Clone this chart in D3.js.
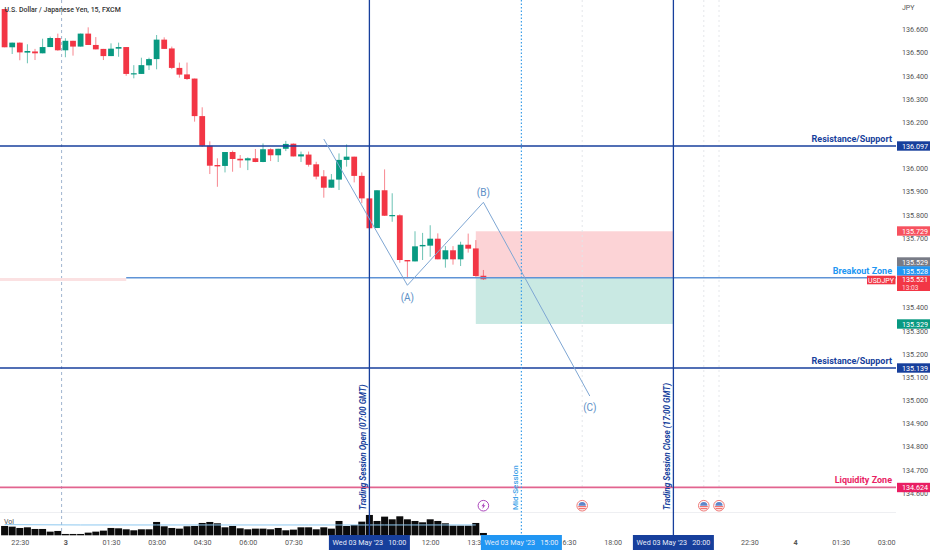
<!DOCTYPE html>
<html>
<head>
<meta charset="utf-8">
<script src="https://d3js.org/d3.v7.min.js"></script>
<style>
  html, body { margin: 0; padding: 0; background: #fff; overflow: hidden; }
  text { font-family: Roboto, "Noto Sans", sans-serif; }
</style>
</head>
<body>
<div id="chart"></div>
<script>
// 15 minute bars, first bar is 22:00 on the 2nd
const opens = [136.688,136.523,136.543,136.500,136.505,136.497,136.524,136.563,136.510,136.551,136.526,136.582,136.533,136.516,136.485,136.517,136.524,136.406,136.408,136.445,136.472,136.556,136.518,136.434,136.406,136.388,136.226,136.098,136.015,136.011,136.071,136.042,136.035,136.044,136.028,136.083,136.057,136.085,136.107,136.052,136.060,136.018,135.966,135.917,135.952,136.037,136.051,135.968,135.871,135.743,135.906,135.796,135.798,135.605,135.599,135.664,135.667,135.697,135.608,135.647,135.608,135.671,135.655,135.537];
const highs = [136.688,136.543,136.544,136.536,136.516,136.560,136.569,136.582,136.562,136.551,136.582,136.609,136.567,136.516,136.540,136.543,136.524,136.446,136.478,136.478,136.576,136.566,136.526,136.457,136.457,136.388,136.264,136.117,136.044,136.071,136.077,136.058,136.048,136.084,136.108,136.087,136.085,136.119,136.108,136.073,136.073,136.029,135.993,135.976,136.065,136.104,136.051,135.983,135.900,135.906,135.996,135.893,135.802,135.605,135.729,135.722,135.755,135.720,135.665,135.665,135.684,135.719,135.691,135.562];
const lows = [136.523,136.494,136.467,136.454,136.468,136.497,136.524,136.508,136.480,136.487,136.526,136.533,136.514,136.468,136.485,136.482,136.400,136.389,136.408,136.425,136.428,136.516,136.429,136.392,136.382,136.202,136.093,135.976,135.921,135.983,135.986,136.003,135.993,136.027,136.027,136.032,136.028,136.075,136.052,136.028,136.008,135.953,135.874,135.917,135.907,136.008,135.940,135.850,135.734,135.743,135.795,135.770,135.593,135.526,135.599,135.605,135.619,135.608,135.572,135.585,135.579,135.637,135.533,135.519];
const closes = [136.523,136.543,136.501,136.507,136.497,136.524,136.563,136.510,136.551,136.526,136.582,136.533,136.514,136.485,136.517,136.524,136.408,136.411,136.446,136.472,136.556,136.516,136.434,136.405,136.386,136.226,136.098,136.012,136.009,136.071,136.041,136.035,136.044,136.028,136.083,136.057,136.085,136.106,136.052,136.061,136.016,135.965,135.917,135.952,136.037,136.051,135.968,135.871,135.742,135.906,135.796,135.799,135.605,135.599,135.664,135.670,135.697,135.608,135.647,135.608,135.671,135.654,135.536,135.522];
const volumes = [28,26,22,24,19,19,11,13,4,4,4,8,11,14,22,21,18,15,18,18,40,27,22,20,27,28,37,40,36,24,28,21,18,20,20,18,22,15,17,24,24,18,24,20,43,28,31,41,61,43,56,48,57,48,43,39,48,43,36,29,29,29,37,7];
const volMaBars = [0,10,20,30,40,50,62];
const volMaValues = [32,31,31,31,31,31,31];

const timeTicks = [2,8,14,20,26,32,38,56,62,74,80,98,104,110,116];
const timeLabels = ['22:30','3','01:30','03:00','04:30','06:00','07:30','12:00','13:30','16:30','18:00','22:30','4','01:30','03:00'];
const priceTicks = [136.6,136.5,136.4,136.3,136.2,136.0,135.9,135.8,135.7,135.4,135.3,135.2,135.1,135.0,134.9,134.8,134.7,134.6];

const waveBars = [42,53,63,77];
const wavePrices = [136.127,135.496,135.854,135.018];
const waveNames = ['(A)','(B)','(C)'];

const resistanceLevels = [136.097,135.139];
const breakoutLevel = 135.528;
const liquidityLevel = 134.624;
const tradeTop = 135.729, tradeBottom = 135.329;
const tradeBars = [62,88];
const sessionBars = [48,68,88];
const sessionBreakBar = 7.5;
const eventBars = [76,92,94];

const width = 932, height = 550;
const navy = '#173f9c', sky = '#2196f3', pink = '#e91e63';
const up = '#089981', down = '#f23645';

const svg = d3.select('#chart').append('svg')
    .attr('width', width)
    .attr('height', height)
    .style('display', 'block');

// index of the bar -> pixels, tradingview spaces bars evenly
const x = d3.scaleLinear().domain([0, 116]).range([4.6, 886.2]);
const y = d3.scaleLinear().domain([136.097, 135.139]).range([146, 368]);
const yVol = d3.scaleLinear().domain([0, 60]).range([535.3, 515.3]);

const xAxis = d3.axisBottom(x)
    .tickValues(timeTicks)
    .tickFormat((d, i) => timeLabels[i])
    .tickSize(0);
const xg = svg.append('g')
    .attr('transform', 'translate(0,535)')
    .call(xAxis);
xg.select('.domain').remove();
xg.selectAll('text')
    .attr('y', 5)
    .style('font-size', '7.2px')
    .style('fill', '#555')
    .style('font-weight', d => (d === 8 || d === 104) ? 700 : 400);

const yAxis = d3.axisRight(y)
    .tickValues(priceTicks)
    .tickFormat(d3.format('.3f'))
    .tickSize(0);
const yg = svg.append('g')
    .attr('transform', 'translate(902,0)')
    .call(yAxis);
yg.select('.domain').remove();
yg.selectAll('text')
    .attr('x', 0)
    .style('font-size', '7.2px')
    .style('fill', '#555');

svg.append('text').attr('x', 902).attr('y', 9.5)
    .style('font-size', '7px').style('fill', '#555').text('JPY');

// pane divider
svg.append('line')
    .attr('x1', 0).attr('x2', 896).attr('y1', 512.5).attr('y2', 512.5)
    .style('stroke', '#eeeff2');

// position boxes
svg.append('rect')
    .attr('x', x(tradeBars[0])).attr('width', x(tradeBars[1]) - x(tradeBars[0]))
    .attr('y', y(tradeTop)).attr('height', y(breakoutLevel) - y(tradeTop))
    .attr('fill', down).attr('opacity', 0.22);
svg.append('rect')
    .attr('x', x(tradeBars[0])).attr('width', x(tradeBars[1]) - x(tradeBars[0]))
    .attr('y', y(breakoutLevel)).attr('height', y(tradeBottom) - y(breakoutLevel))
    .attr('fill', up).attr('opacity', 0.22);

// session break + faint event lines
svg.append('line')
    .attr('x1', x(sessionBreakBar)).attr('x2', x(sessionBreakBar))
    .attr('y1', 0).attr('y2', 535)
    .style('stroke', '#9fb4cf')
    .style('stroke-dasharray', '3,3');
svg.selectAll('.event-line')
    .data(eventBars)
    .enter()
    .append('line')
    .attr('class', 'event-line')
    .attr('x1', d => x(d)).attr('x2', d => x(d))
    .attr('y1', 0).attr('y2', 500)
    .style('stroke', '#e4e6ea')
    .style('stroke-dasharray', '2,3');

// volume
const volWidth = 7;
svg.selectAll('.vol')
    .data(volumes)
    .enter()
    .append('rect')
    .attr('class', 'vol')
    .attr('x', (d, i) => x(i) - volWidth / 2)
    .attr('width', volWidth)
    .attr('y', d => yVol(d))
    .attr('height', d => yVol(0) - yVol(d))
    .attr('fill', '#0b0b0b');
const volLine = d3.line()
    .x((d, i) => x(volMaBars[i]))
    .y(d => yVol(d));
svg.append('path')
    .datum(volMaValues)
    .attr('fill', 'none')
    .attr('stroke', '#8ec9f0')
    .attr('stroke-width', 1)
    .attr('d', volLine);
svg.append('text').attr('x', 4).attr('y', 524)
    .style('font-size', '7px').style('fill', '#555').text('Vol');

// candles
const candleWidth = 5.8;
const candles = svg.append('g');
opens.forEach((o, i) => {
    const c = closes[i];
    const color = c >= o ? up : down;
    candles.append('line')
        .attr('x1', x(i)).attr('x2', x(i))
        .attr('y1', y(highs[i])).attr('y2', y(lows[i]))
        .style('stroke', color)
        .style('stroke-opacity', 0.6);
    candles.append('rect')
        .attr('x', x(i) - candleWidth / 2)
        .attr('width', candleWidth)
        .attr('y', y(Math.max(o, c)))
        .attr('height', Math.max(1.2, Math.abs(y(o) - y(c))))
        .attr('fill', color);
});

// price levels
svg.selectAll('.res')
    .data(resistanceLevels)
    .enter()
    .append('line')
    .attr('class', 'res')
    .attr('x1', 0).attr('x2', 896)
    .attr('y1', d => y(d)).attr('y2', d => y(d))
    .style('stroke', navy)
    .style('stroke-width', 1.3);
svg.append('line')
    .attr('x1', 0).attr('x2', x(16)).attr('y1', y(135.521)).attr('y2', y(135.521))
    .style('stroke', '#fbe1e2').style('stroke-width', 3);
svg.append('line')
    .attr('x1', x(16)).attr('x2', 896).attr('y1', y(breakoutLevel)).attr('y2', y(breakoutLevel))
    .style('stroke', '#5f93d6').style('stroke-width', 1.5);
svg.append('line')
    .attr('x1', 0).attr('x2', 896).attr('y1', y(liquidityLevel)).attr('y2', y(liquidityLevel))
    .style('stroke', '#e2648f').style('stroke-width', 1.8);

// session verticals
svg.selectAll('.session')
    .data(sessionBars)
    .enter()
    .append('line')
    .attr('class', 'session')
    .attr('x1', d => x(d)).attr('x2', d => x(d))
    .attr('y1', 0).attr('y2', 535)
    .style('stroke', d => d === 68 ? '#3d9fe8' : navy)
    .style('stroke-width', d => d === 68 ? 1.2 : 1.3)
    .style('stroke-dasharray', d => d === 68 ? '1.5,2' : null);

// abc wave
const waveLine = d3.line()
    .x((d, i) => x(waveBars[i]))
    .y(d => y(d));
svg.append('path')
    .datum(wavePrices)
    .attr('fill', 'none')
    .attr('stroke', '#7ea6d3')
    .attr('stroke-width', 1)
    .attr('d', waveLine);
const waveOffset = [15.5, -6.5, 15];
svg.selectAll('.wave-name')
    .data(waveNames)
    .enter()
    .append('text')
    .attr('class', 'wave-name')
    .attr('x', (d, i) => x(waveBars[i + 1]))
    .attr('y', (d, i) => y(wavePrices[i + 1]) + waveOffset[i])
    .attr('text-anchor', 'middle')
    .style('font-size', '10px')
    .style('fill', '#5c8fc6')
    .text(d => d);

// rotated session notes
const sessionNotes = [
    ['Trading Session Open (07:00 GMT)', 48, navy],
    ['Mid-Session', 68, '#3d9fe8'],
    ['Trading Session Close (17:00 GMT)', 88, navy]
];
sessionNotes.forEach(n => {
    const mid = n[1] === 68;
    svg.append('text')
        .attr('transform', `translate(${x(n[1]) - 3},510) rotate(-90)`)
        .style('font-size', mid ? '8px' : '8.2px')
        .style('font-weight', mid ? 500 : 700)
        .style('font-style', mid ? 'normal' : 'italic')
        .style('fill', n[2])
        .text(n[0]);
});

// zone names
const zoneNames = [
    ['Resistance/Support', resistanceLevels[0], navy],
    ['Resistance/Support', resistanceLevels[1], navy],
    ['Breakout Zone', breakoutLevel, sky],
    ['Liquidity Zone', liquidityLevel, pink]
];
zoneNames.forEach(n => {
    svg.append('text')
        .attr('x', 892)
        .attr('y', y(n[1]) - 4)
        .attr('text-anchor', 'end')
        .style('font-size', '9px')
        .style('font-weight', 700)
        .style('fill', n[2])
        .text(n[0]);
});

// axis tags, the stacked ones do not sit on their own price
const priceTags = [
    ['135.729', 231, '#f7525f'],
    ['136.097', 146, navy],
    ['135.139', 368, navy],
    ['135.529', 262, '#787b86'],
    ['135.528', 271, sky],
    ['135.329', 324, up],
    ['134.624', 487.5, pink]
];
priceTags.forEach(t => {
    svg.append('rect')
        .attr('x', 897).attr('width', 33)
        .attr('y', t[1] - 4.7).attr('height', 9.4)
        .attr('fill', t[2]);
    svg.append('text')
        .attr('x', 902).attr('y', t[1] + 2.6)
        .style('font-size', '7.2px')
        .style('fill', '#fff')
        .text(t[0]);
});
svg.append('rect').attr('x', 897).attr('width', 33).attr('y', 275.7).attr('height', 15.3).attr('fill', down);
svg.append('text').attr('x', 902).attr('y', 282.4).style('font-size', '7.2px').style('fill', '#fff').text('135.521');
svg.append('text').attr('x', 902).attr('y', 289.6).style('font-size', '6.6px').style('fill', '#fff').style('opacity', 0.8).text('13:03');
svg.append('rect').attr('x', 867).attr('width', 28.5).attr('y', 275.7).attr('height', 8.6).attr('fill', down);
svg.append('text').attr('x', 881).attr('y', 282.5).attr('text-anchor', 'middle').style('font-size', '7px').style('fill', '#fff').text('USDJPY');

// crosshair style date tags
const dateTags = [
    [48, "Wed 03 May '23   10:00", navy],
    [68, "Wed 03 May '23   15:00", sky],
    [88, "Wed 03 May '23   20:00", navy]
];
dateTags.forEach(t => {
    svg.append('rect')
        .attr('x', x(t[0]) - 40.5).attr('width', 81)
        .attr('y', 535).attr('height', 15)
        .attr('fill', t[2]);
    svg.append('text')
        .attr('x', x(t[0])).attr('y', 545.3)
        .attr('text-anchor', 'middle')
        .style('font-size', '7.2px')
        .style('fill', '#e6ecf8')
        .style('white-space', 'pre')
        .text(t[1]);
});

// event markers
const bolt = svg.append('g').attr('transform', `translate(${x(63)},505.7)`);
bolt.append('circle').attr('r', 5.3)
    .attr('fill', '#fff').attr('stroke', '#ab47bc').attr('stroke-width', 1);
bolt.append('path').attr('d', 'M1,-3.2L-2,0.5H-0.3L-1,3.2L2,-0.5H0.3Z').attr('fill', '#ab47bc');
eventBars.forEach(b => {
    const g = svg.append('g').attr('transform', `translate(${x(b)},505.7)`);
    g.append('circle').attr('r', 5.3).attr('fill', '#fff').attr('stroke', '#ef7a78').attr('stroke-width', 1);
    g.append('rect').attr('x', -4).attr('y', 0.5).attr('width', 8).attr('height', 1).attr('fill', '#ef5350');
    g.append('rect').attr('x', -3.5).attr('y', 2.5).attr('width', 7).attr('height', 1).attr('fill', '#ef5350');
    g.append('path').attr('d', d3.arc()({ innerRadius: 0, outerRadius: 3.6, startAngle: -Math.PI / 2, endAngle: Math.PI / 2 })).attr('fill', '#5f86c9');
});

// title goes last, it sits over the first candle
svg.append('text').attr('x', 4.5).attr('y', 11.5)
    .style('font-size', '7px')
    .style('font-weight', 500)
    .style('fill', '#333')
    .text('U.S. Dollar / Japanese Yen, 15, FXCM');
</script>
</body>
</html>
